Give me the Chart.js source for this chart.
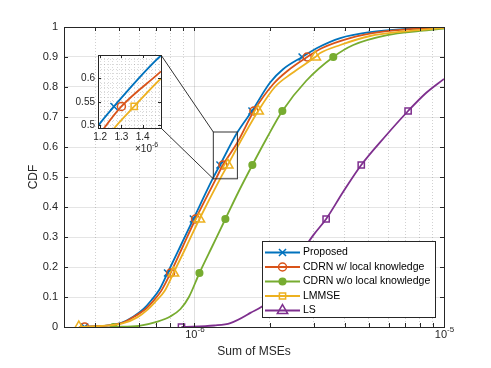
<!DOCTYPE html>
<html>
<head>
<meta charset="utf-8">
<script src="https://cdn.jsdelivr.net/npm/chart.js@4.4.1/dist/chart.umd.min.js"></script>
<style>
  html, body { margin: 0; padding: 0; background: #fff; }
  #wrap { position: relative; width: 491px; height: 368px; }
  #main { position: absolute; left: 0; top: 0; }
  #inset { position: absolute; left: 60px; top: 45px; }
</style>
</head>
<body>
<div id="wrap">
  <canvas id="main" width="491" height="368"></canvas>
  <canvas id="inset" width="115" height="110"></canvas>
</div>
<script>
// x values are in units of 1e-6 (Sum of MSEs)
const seriesNames = ['Proposed', 'CDRN w/ local knowledge', 'CDRN w/o local knowledge', 'LMMSE', 'LS'];

const proposedX = [0.363, 0.506, 0.570, 0.625, 0.673, 0.724, 0.780, 0.879, 0.99, 1.186, 1.265, 1.486, 1.70, 2.01, 2.27, 2.70, 3.10, 3.84, 5.06, 6.85, 10];
const proposedY = [0, 0.013, 0.035, 0.06, 0.09, 0.125, 0.18, 0.27, 0.36, 0.496, 0.54, 0.649, 0.72, 0.815, 0.86, 0.90, 0.93, 0.963, 0.983, 0.993, 0.998];

const cdrnLocalX = [0.363, 0.51, 0.575, 0.637, 0.686, 0.738, 0.802, 0.90, 1.01, 1.219, 1.30, 1.486, 1.73, 2.07, 2.37, 2.83, 3.25, 4.2, 5.5, 7.3, 10];
const cdrnLocalY = [0, 0.013, 0.035, 0.06, 0.088, 0.122, 0.18, 0.27, 0.36, 0.494, 0.54, 0.615, 0.72, 0.81, 0.855, 0.90, 0.93, 0.963, 0.983, 0.993, 0.998];

const cdrnNoLocalX = [0.474, 0.60, 0.711, 0.80, 0.879, 0.95, 1.047, 1.18, 1.33, 1.50, 1.706, 1.95, 2.25, 2.80, 3.60, 4.33, 5.92, 8.02, 10];
const cdrnNoLocalY = [0, 0.004, 0.018, 0.035, 0.06, 0.10, 0.18, 0.27, 0.36, 0.45, 0.54, 0.63, 0.72, 0.82, 0.90, 0.94, 0.973, 0.987, 0.995];

const lmmseX = [0.344, 0.515, 0.592, 0.649, 0.698, 0.759, 0.824, 0.93, 1.047, 1.267, 1.36, 1.486, 1.80, 2.10, 2.45, 3.05, 3.19, 3.84, 5.06, 6.85, 10];
const lmmseY = [0, 0.012, 0.033, 0.058, 0.085, 0.12, 0.18, 0.27, 0.36, 0.494, 0.54, 0.60, 0.72, 0.80, 0.845, 0.90, 0.913, 0.94, 0.97, 0.985, 0.997];

const lsX = [0.887, 1.2, 1.393, 1.675, 1.959, 2.21, 2.6, 3.0, 3.37, 3.94, 4.66, 5.81, 7.18, 8.47, 10];
const lsY = [0, 0.005, 0.013, 0.047, 0.083, 0.147, 0.232, 0.307, 0.36, 0.45, 0.54, 0.635, 0.72, 0.78, 0.827];

// CDF levels where markers sit
const markerLevels = [0, 0.18, 0.36, 0.54, 0.72, 0.9];
const lsMarkerLevels = [0, 0.36, 0.54, 0.72];

const xTickBase = '10';
const xTickExponents = ['-6', '-5'];
const yTickLabels = ['0', '0.1', '0.2', '0.3', '0.4', '0.5', '0.6', '0.7', '0.8', '0.9', '1'];
const insetXTickLabels = ['1.2', '1.3', '1.4'];
const insetYTickLabels = ['0.5', '0.55', '0.6'];

const COLORS = ['#0072BD', '#D95319', '#77AC30', '#EDB120', '#7E2F8E'];
const AXIS = '#262626';
const FONT = '"Liberation Sans", Arial, "DejaVu Sans", sans-serif';

const zip = (xs, ys) => xs.map((x, i) => ({x: x, y: ys[i]}));
const seriesX = [proposedX, cdrnLocalX, cdrnNoLocalX, lmmseX, lsX];
const seriesY = [proposedY, cdrnLocalY, cdrnNoLocalY, lmmseY, lsY];

const mainStyles = [
  {style: 'crossRot', r: 5, fill: false},
  {style: 'circle', r: 4, fill: false},
  {style: 'circle', r: 3.3, fill: true},
  {style: 'triangle', r: 6, fill: false},
  {style: 'rect', r: 4.4, fill: false}
];
const legendStyles = [
  {style: 'crossRot', r: 5, fill: false},
  {style: 'circle', r: 4, fill: false},
  {style: 'circle', r: 3.3, fill: true},
  {style: 'rect', r: 4.4, fill: false},
  {style: 'triangle', r: 6, fill: false}
];

function radiusFn(ys, levels, r) {
  return ctx => levels.includes(ys[ctx.dataIndex]) ? r : 0;
}

function makeDataset(i, st) {
  const levels = i === 4 ? lsMarkerLevels : markerLevels;
  return {
    label: seriesNames[i],
    data: zip(seriesX[i], seriesY[i]),
    borderColor: COLORS[i],
    backgroundColor: st.fill ? COLORS[i] : 'rgba(0,0,0,0)',
    borderWidth: 1.8,
    pointStyle: st.style,
    pointRadius: radiusFn(seriesY[i], levels, st.r),
    pointBorderWidth: 1.5,
    pointBorderColor: COLORS[i],
    pointBackgroundColor: st.fill ? COLORS[i] : 'rgba(0,0,0,0)',
    pointHoverRadius: 0,
    cubicInterpolationMode: 'monotone',
    order: -i
  };
}

function marker(ctx, style, x, y, r, color, filled) {
  ctx.save();
  ctx.strokeStyle = color;
  ctx.fillStyle = color;
  ctx.lineWidth = 1.5;
  ctx.beginPath();
  if (style === 'crossRot') {
    const d = r * 0.707;
    ctx.moveTo(x - d, y - d); ctx.lineTo(x + d, y + d);
    ctx.moveTo(x + d, y - d); ctx.lineTo(x - d, y + d);
  } else if (style === 'circle') {
    ctx.arc(x, y, r, 0, Math.PI * 2);
  } else if (style === 'rect') {
    const s = r * 0.707;
    ctx.rect(x - s, y - s, 2 * s, 2 * s);
  } else {
    ctx.moveTo(x, y - r);
    ctx.lineTo(x + r * 0.866, y + r / 2);
    ctx.lineTo(x - r * 0.866, y + r / 2);
    ctx.closePath();
  }
  if (filled) ctx.fill();
  ctx.stroke();
  ctx.restore();
}

// grid positions
const xGridVals = [0.4, 0.5, 0.6, 0.7, 0.8, 0.9, 1, 2, 3, 4, 5, 6, 7, 8, 9, 10];
const xMajorVals = [1, 10];
const yVals = yTickLabels.map(Number);
const isMajorX = v => xMajorVals.includes(v);

// inset placement on the page (plot box)
const insetBox = {left: 98, top: 55, right: 161, bottom: 128};
const zoomX = [1.19, 1.486];
const zoomY = [0.494, 0.65];

const mainDecor = {
  id: 'mainDecor',
  afterDraw(chart) {
    const {ctx, chartArea: a, scales: {x, y}} = chart;
    ctx.save();
    ctx.strokeStyle = AXIS;
    ctx.lineWidth = 1;
    ctx.beginPath();
    xGridVals.forEach(v => {
      const px = Math.round(x.getPixelForValue(v)) + 0.5;
      ctx.moveTo(px, a.bottom); ctx.lineTo(px, a.bottom - 4);
      ctx.moveTo(px, a.top); ctx.lineTo(px, a.top + 4);
    });
    yVals.forEach(v => {
      const py = Math.round(y.getPixelForValue(v)) + 0.5;
      ctx.moveTo(a.left, py); ctx.lineTo(a.left + 4, py);
      ctx.moveTo(a.right, py); ctx.lineTo(a.right - 4, py);
    });
    ctx.stroke();
    ctx.strokeRect(Math.round(a.left) + 0.5, Math.round(a.top) + 0.5,
      Math.round(a.right - a.left), Math.round(a.bottom - a.top));

    // x tick labels: 10 with raised exponent
    ctx.fillStyle = AXIS;
    ctx.textBaseline = 'alphabetic';
    xMajorVals.forEach((v, k) => {
      const px = x.getPixelForValue(v);
      ctx.font = '11px ' + FONT;
      ctx.textAlign = 'right';
      ctx.fillText(xTickBase, px + 3, a.bottom + 11);
      ctx.font = '8px ' + FONT;
      ctx.textAlign = 'left';
      ctx.fillText(xTickExponents[k], px + 3, a.bottom + 5);
    });
    ctx.textAlign = 'left';

    // zoom rectangle and connectors
    const zl = x.getPixelForValue(zoomX[0]), zr = x.getPixelForValue(zoomX[1]);
    const zt = y.getPixelForValue(zoomY[1]), zb = y.getPixelForValue(zoomY[0]);
    ctx.strokeStyle = '#333';
    ctx.lineWidth = 1;
    ctx.strokeRect(zl, zt, zr - zl, zb - zt);
    ctx.beginPath();
    ctx.moveTo(insetBox.right, insetBox.top); ctx.lineTo(zl, zt);
    ctx.moveTo(insetBox.right, insetBox.bottom); ctx.lineTo(zl, zb);
    ctx.stroke();

    // legend
    const lg = {left: 262.5, top: 241.5, right: 435.5, bottom: 317.5};
    ctx.fillStyle = '#fff';
    ctx.fillRect(lg.left, lg.top, lg.right - lg.left, lg.bottom - lg.top);
    ctx.strokeStyle = AXIS;
    ctx.strokeRect(lg.left, lg.top, lg.right - lg.left, lg.bottom - lg.top);
    ctx.font = '10.5px ' + FONT;
    ctx.textBaseline = 'middle';
    seriesNames.forEach((name, i) => {
      const yy = 252.5 + i * 14.5;
      ctx.strokeStyle = COLORS[i];
      ctx.lineWidth = 1.8;
      ctx.beginPath();
      ctx.moveTo(265, yy); ctx.lineTo(300, yy);
      ctx.stroke();
      const st = legendStyles[i];
      marker(ctx, st.style, 282.5, yy, st.r, COLORS[i], st.fill);
      ctx.fillStyle = '#000';
      ctx.fillText(name, 303, yy);
    });
    ctx.restore();
  }
};

new Chart(document.getElementById('main'), {
  type: 'line',
  data: {datasets: mainStyles.map((st, i) => makeDataset(i, st))},
  options: {
    responsive: false,
    devicePixelRatio: 1,
    animation: false,
    events: [],
    layout: {padding: {left: 0, right: 47, top: 27, bottom: 0}},
    plugins: {legend: {display: false}, tooltip: {enabled: false}},
    scales: {
      x: {
        type: 'logarithmic',
        min: 0.302,
        max: 10,
        afterBuildTicks: s => { s.ticks = xGridVals.map(v => ({value: v})); },
        afterFit: s => { s.height = 41; },
        ticks: {
          autoSkip: false,
          maxRotation: 0,
          callback: () => ''
        },
        grid: {
          drawTicks: false,
          color: ctx => isMajorX(ctx.tick && ctx.tick.value) ? 'rgba(0,0,0,0.12)' : 'rgba(0,0,0,0.18)'
        },
        border: {
          display: false,
          dash: ctx => isMajorX(ctx.tick && ctx.tick.value) ? [] : [1, 2]
        },
        title: {
          display: true,
          text: 'Sum of MSEs',
          color: AXIS,
          font: {family: FONT, size: 12},
          padding: {top: 0, bottom: 9}
        }
      },
      y: {
        type: 'linear',
        min: 0,
        max: 1,
        afterBuildTicks: s => { s.ticks = yVals.map(v => ({value: v})); },
        afterFit: s => { s.width = 64; },
        ticks: {
          padding: 6,
          color: AXIS,
          font: {family: FONT, size: 11},
          callback: (v, i) => yTickLabels[i]
        },
        grid: {drawTicks: false, color: 'rgba(0,0,0,0.1)'},
        border: {display: false},
        title: {
          display: true,
          text: 'CDF',
          color: AXIS,
          font: {family: FONT, size: 12},
          padding: {top: 26, bottom: 0}
        }
      }
    }
  },
  plugins: [mainDecor]
});

// ----- inset -----
const insetSeries = [0, 1, 3];
const insetStyles = {0: {style: 'crossRot', r: 5}, 1: {style: 'circle', r: 4}, 3: {style: 'rect', r: 4.4}};
const insetXGrid = [];
for (let v = 1.2; v < 1.49; v += 0.02) insetXGrid.push(+v.toFixed(2));
const insetYGrid = [];
for (let v = 0.5; v < 0.651; v += 0.01) insetYGrid.push(+v.toFixed(2));
const insetXVals = insetXTickLabels.map(Number);
const insetYVals = insetYTickLabels.map(Number);

const insetDecor = {
  id: 'insetDecor',
  beforeDraw(chart) {
    const {ctx, chartArea: a} = chart;
    ctx.save();
    ctx.fillStyle = '#fff';
    ctx.fillRect(a.left, a.top, a.right - a.left, a.bottom - a.top);
    ctx.restore();
  },
  afterDraw(chart) {
    const {ctx, chartArea: a, scales: {x, y}} = chart;
    ctx.save();
    ctx.strokeStyle = AXIS;
    ctx.lineWidth = 1;
    ctx.beginPath();
    insetXVals.forEach(v => {
      const px = Math.round(x.getPixelForValue(v)) + 0.5;
      ctx.moveTo(px, a.bottom); ctx.lineTo(px, a.bottom - 3);
      ctx.moveTo(px, a.top); ctx.lineTo(px, a.top + 3);
    });
    insetYVals.forEach(v => {
      const py = Math.round(y.getPixelForValue(v)) + 0.5;
      ctx.moveTo(a.left, py); ctx.lineTo(a.left + 3, py);
      ctx.moveTo(a.right, py); ctx.lineTo(a.right - 3, py);
    });
    ctx.stroke();
    ctx.strokeRect(Math.round(a.left) + 0.5, Math.round(a.top) + 0.5,
      Math.round(a.right - a.left), Math.round(a.bottom - a.top));
    ctx.fillStyle = AXIS;
    ctx.textBaseline = 'alphabetic';
    ctx.font = '10px ' + FONT;
    ctx.fillText('\u00D710', 75, 107);
    ctx.font = '7px ' + FONT;
    ctx.fillText('-6', 92, 102);
    ctx.restore();
  }
};

new Chart(document.getElementById('inset'), {
  type: 'line',
  data: {
    datasets: insetSeries.map(i => makeDataset(i, {style: insetStyles[i].style, r: insetStyles[i].r, fill: false}))
  },
  options: {
    responsive: false,
    devicePixelRatio: 1,
    animation: false,
    events: [],
    layout: {padding: {left: 0, right: 14, top: 10, bottom: 0}},
    plugins: {legend: {display: false}, tooltip: {enabled: false}},
    scales: {
      x: {
        type: 'linear',
        min: zoomX[0],
        max: zoomX[1],
        afterBuildTicks: s => { s.ticks = insetXGrid.map(v => ({value: v})); },
        afterFit: s => { s.height = 27; },
        ticks: {
          autoSkip: false,
          maxRotation: 0,
          padding: 3,
          color: AXIS,
          font: {family: FONT, size: 10},
          callback: v => { const k = insetXVals.indexOf(v); return k >= 0 ? insetXTickLabels[k] : ''; }
        },
        grid: {drawTicks: false, color: 'rgba(0,0,0,0.15)'},
        border: {display: false, dash: [1, 2]}
      },
      y: {
        type: 'linear',
        min: zoomY[0],
        max: zoomY[1],
        afterBuildTicks: s => { s.ticks = insetYGrid.map(v => ({value: v})); },
        afterFit: s => { s.width = 38; },
        ticks: {
          autoSkip: false,
          padding: 3,
          color: AXIS,
          font: {family: FONT, size: 10},
          callback: v => { const k = insetYVals.indexOf(v); return k >= 0 ? insetYTickLabels[k] : ''; }
        },
        grid: {drawTicks: false, color: 'rgba(0,0,0,0.15)'},
        border: {display: false, dash: [1, 2]}
      }
    }
  },
  plugins: [insetDecor]
});
</script>
</body>
</html>
